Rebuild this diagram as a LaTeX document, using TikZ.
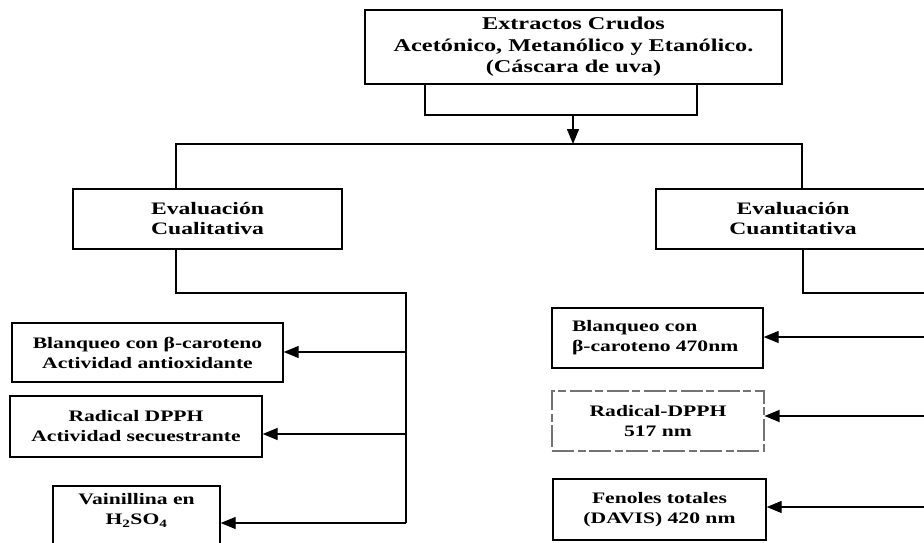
\documentclass[tikz,border=0pt]{standalone}
\usepackage{fontspec}
\setmainfont{Liberation Serif}[FakeStretch=1.35]
\usetikzlibrary{arrows.meta}
\tikzset{
  box/.style={draw=black, line width=1.4pt, rectangle, inner sep=0pt, align=center, text=black},
  faint/.style={draw=black!55, line width=1.1pt, dash pattern=on 22pt off 4pt on 8pt off 3pt},
  conn/.style={draw=black, line width=1.4pt},
  arr/.style={conn, -{Triangle[length=15pt,width=12pt]}},
  bigtext/.style={font=\fontsize{18}{21.5}\selectfont\bfseries},
  midtext/.style={font=\fontsize{17.5}{20}\selectfont\bfseries},
  smalltext/.style={font=\fontsize{16}{20}\selectfont\bfseries},
  smallbold/.style={font=\fontsize{16}{20}\selectfont\bfseries},
}
\begin{document}
\begin{tikzpicture}[x=1pt,y=-1pt]
\useasboundingbox (0,0) rectangle (924,543);
\clip (0,0) rectangle (924,543);

% boxes
\node[box, bigtext, minimum width=417pt, minimum height=74pt] (top) at (573.5,47)
  {Extractos Crudos\\Acetónico, Metanólico y Etanólico.\\(Cáscara de uva)};
\node[box, midtext, minimum width=269pt, minimum height=60pt] (qual) at (207.5,219)
  {Evaluación\\Cualitativa};
\node[box, midtext, minimum width=274pt, minimum height=60pt] (quant) at (793,219)
  {Evaluación\\Cuantitativa};

\node[box, smallbold, minimum width=271pt, minimum height=59pt] (b1) at (147.5,352.5)
  {Blanqueo con β-caroteno\\Actividad antioxidante};
\node[box, smallbold, minimum width=252pt, minimum height=61pt] (b2) at (136,426.5)
  {Radical DPPH\\Actividad secuestrante};
\node[box, smalltext, minimum width=167pt, minimum height=72pt] (b3) at (136.5,522)
  {Vainillina en\\H\textsubscript{2}SO\textsubscript{4}\\\strut};

\node[box, smallbold, minimum width=211pt, minimum height=60pt, text width=171pt, align=left, inner xsep=20pt] (ra) at (657.5,338)
  {Blanqueo con\\β-caroteno 470nm};
\node[box, faint, smallbold, minimum width=212pt, minimum height=60pt] (rb) at (658,421)
  {Radical-DPPH\\517 nm};
\node[box, smallbold, minimum width=213pt, minimum height=61pt] (rc) at (659.5,509.5)
  {Fenoles totales\\(DAVIS) 420 nm};

% top bracket and split
\coordinate (bl) at (425,115);
\coordinate (br) at (697,115);
\coordinate (bm) at (573,115);
\coordinate (split) at (573,144);
\coordinate (sl) at (176,144);
\coordinate (sr) at (802,144);
\draw[conn] (top.south -| bl) -- (bl) -- (br) -- (top.south -| br);
\draw[arr] (bm) -- (split);
\draw[conn] (qual.north -| sl) -- (sl) -- (sr) -- (quant.north -| sr);

% qualitative branch
\coordinate (ql) at (176,293);
\coordinate (qr) at (406,293);
\coordinate (a1) at (406,352);
\coordinate (a2) at (406,434);
\coordinate (a3) at (406,523);
\draw[conn] (qual.south -| ql) -- (ql) -- (qr) -- (a3);
\draw[arr] (a1) -- (a1 -| b1.east);
\draw[arr] (a2) -- (a2 -| b2.east);
\draw[arr] (a3) -- (a3 -| b3.east);

% quantitative branch
\coordinate (rl) at (803,293);
\coordinate (rr) at (945,293);
\coordinate (c1) at (945,337);
\coordinate (c2) at (945,416);
\coordinate (c3) at (945,507);
\draw[conn] (quant.south -| rl) -- (rl) -- (rr) -- (c3);
\draw[arr] (c1) -- (c1 -| ra.east);
\draw[arr] (c2) -- (c2 -| rb.east);
\draw[arr] (c3) -- (c3 -| rc.east);
\end{tikzpicture}
\end{document}
